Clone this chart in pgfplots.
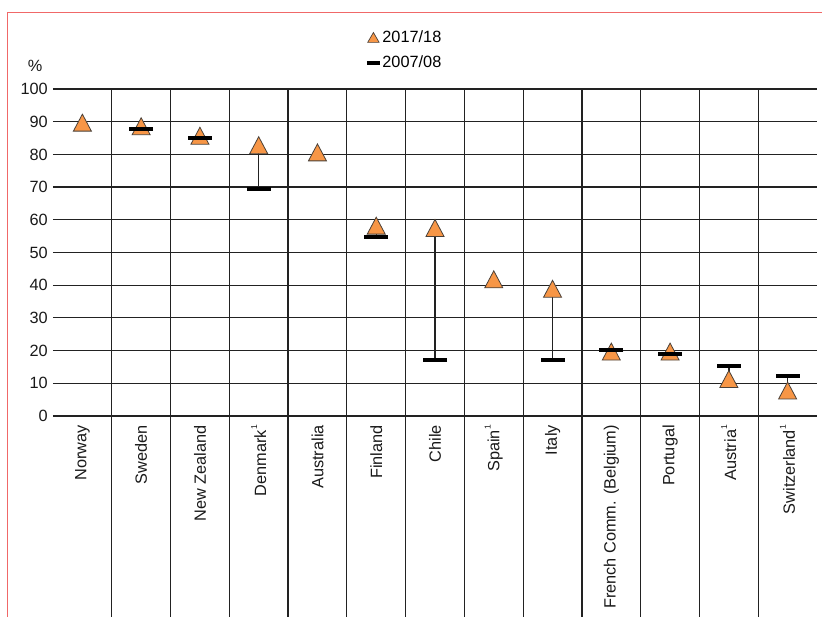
\documentclass[border=0pt]{standalone}
\usepackage{fontspec}
\setmainfont{Liberation Sans}
\usepackage{pgfplots}
\pgfplotsset{compat=1.18}
\definecolor{triorange}{HTML}{F79646}
\definecolor{triedge}{HTML}{4A4038}
\definecolor{gridc}{HTML}{222222}
\definecolor{framered}{HTML}{F06868}
\newcommand{\lfont}{\fontsize{16.3}{19}\selectfont}
\newcommand{\fnone}{\raisebox{0.55em}{\fontsize{8.5}{8.5}\selectfont 1}}
\begin{document}
\begin{tikzpicture}[x=1pt,y=1pt]
\begin{axis}[
  at={(53pt,200pt)}, anchor=south west,
  scale only axis, width=764pt, height=327pt,
  xmin=-0.5, xmax=12.5, ymin=0, ymax=100,
  clip=false,
  axis line style={draw=none},
  major tick length=0pt,
  ytick={0,10,...,100},
  ymajorgrids,
  major grid style={gridc, line width=1.2pt},
  xtick={0,...,12},
  xticklabels={Norway,Sweden,New Zealand,Denmark\fnone,Australia,Finland,Chile,Spain\fnone,Italy,French Comm. (Belgium),Portugal,Austria\fnone,Switzerland\fnone},
  /pgf/number format/assume math mode=true,
  yticklabel style={font=\lfont, anchor=east, inner sep=0pt, xshift=-5pt, text=black!90},
  xticklabel style={font=\lfont, yshift=-9pt, rotate=90, anchor=east, inner sep=0pt, text=black!90},
  legend style={draw=none, fill=none, inner sep=0pt, font=\lfont,
    at={(rel axis cs:0.408,1.18)}, anchor=north west,
    row sep=11pt, column sep=0pt, nodes={inner sep=0.5pt}},
  legend cell align=left,
]
% connecting lines
\addplot[gridc, line width=1.3pt, unbounded coords=jump, forget plot] coordinates {
 (1,88.6) (1,87.8) (1,nan)
 (2,85.7) (2,84.9) (2,nan)
 (3,82.8) (3,69.3) (3,nan)
 (5,58.2) (5,54.7) (5,nan)
 (6,57.5) (6,17.0) (6,nan)
 (8,38.9) (8,17.0) (8,nan)
 (9,19.7) (9,20.2) (9,nan)
 (10,19.7) (10,19.0) (10,nan)
 (11,11.3) (11,15.3) (11,nan)
 (12,7.8) (12,12.2)
};
% 2017/18
\addplot[only marks, mark=triangle*, mark size=11.3pt,
  mark options={yshift=-2.8pt, xscale=0.92, fill=triorange, draw=triedge, line width=0.8pt},
  legend image code/.code={\path[only marks, mark=triangle*, mark size=6.6pt,
     mark options={yshift=-1.6pt, fill=triorange, draw=triedge, line width=0.7pt}] plot coordinates {(6.5pt,0pt)};
     \path[draw=none, fill=none] (0pt,-6pt) rectangle (13pt,6pt);}
] coordinates {
 (0,89.7) (1,88.6) (2,85.7) (3,82.8) (4,80.6) (5,58.2) (6,57.5)
 (7,41.8) (8,38.9) (9,19.7) (10,19.7) (11,11.3) (12,7.8)
};
\addlegendentry{2017/18}
% 2007/08
\addplot[only marks, mark=-, mark size=12pt, mark options={black, line width=4pt},
  legend image code/.code={\draw[black, line width=4pt] (0pt,0pt) -- (13pt,0pt);
     \path[draw=none, fill=none] (0pt,-6pt) rectangle (13pt,6pt);}
] coordinates {
 (1,87.8) (2,84.9) (3,69.3) (5,54.7) (6,17.0) (8,17.0)
 (9,20.2) (10,19.0) (11,15.3) (12,12.2)
};
\addlegendentry{2007/08}
% vertical separators
\foreach \i in {0,...,11} {
  \edef\temp{\noexpand\draw[gridc, line width=1.2pt] (axis cs:\i+0.5,100) -- (axis cs:\i+0.5,-62);}
  \temp
}
\end{axis}
\node[font=\lfont, text=black!90] at (35pt,550pt) {\%};
\draw[framered, line width=1pt] (7pt,-2pt) -- (7pt,603.3pt) -- (830pt,603.3pt);
\pgfresetboundingbox
\useasboundingbox (0pt,0pt) rectangle (822pt,616pt);
\end{tikzpicture}
\end{document}
